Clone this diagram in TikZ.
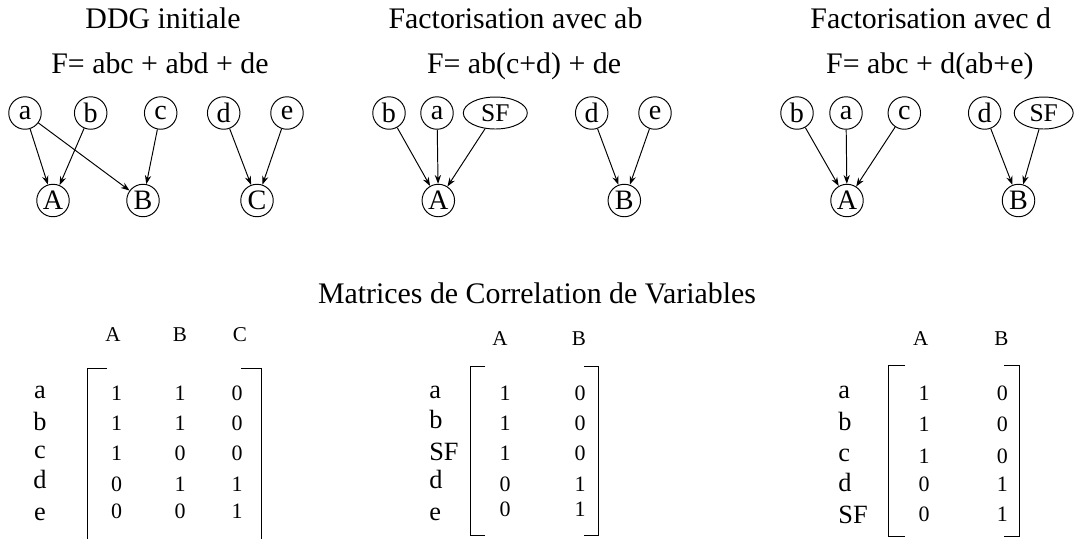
\documentclass[tikz,border=0pt]{standalone}
\usepackage{fontspec}
\setmainfont{Liberation Serif}
\usetikzlibrary{arrows.meta,shapes.geometric}

\begin{document}
\begin{tikzpicture}[x=0.02cm,y=-0.02cm,line width=0.55pt,
  var/.style={circle,draw,inner sep=0pt,minimum size=0.65cm,font=\fontsize{16}{17}\selectfont},
  sfnode/.style={ellipse,draw,inner sep=0pt,minimum height=0.64cm,font=\fontsize{14.5}{16}\selectfont},
  dep/.style={-{Stealth[length=5pt,width=3.6pt]}},
  title/.style={anchor=base,font=\fontsize{17}{19}\selectfont},
  hd/.style={anchor=base,font=\fontsize{12}{14}\selectfont},
  lbl/.style={anchor=base,font=\fontsize{15}{16}\selectfont},
  ent/.style={anchor=base,font=\fontsize{12.5}{14}\selectfont}]
  \useasboundingbox (0,0) rectangle (1074,539);

  % DDG initiale
  \node[title] (t1) at (163,28) {DDG initiale};
  \node[title] (f1) at (160,73) {F= abc + abd + de};
  \node[var] (a1) at (25,113) {a};
  \node[var] (b1) at (90.7,113) {b};
  \node[var] (c1) at (160.7,113) {c};
  \node[var] (d1) at (223.7,113) {d};
  \node[var] (e1) at (287,113) {e};
  \node[var] (A1) at (53,200.5) {A};
  \node[var] (B1) at (143,200.5) {B};
  \node[var] (C1) at (257,200.5) {C};
  \draw[dep] (a1)--(A1);
  \draw[dep] (a1)--(B1);
  \draw[dep] (b1)--(A1);
  \draw[dep] (c1)--(B1);
  \draw[dep] (d1)--(C1);
  \draw[dep] (e1)--(C1);

  % factorisation avec ab
  \node[title] (t2) at (515.5,28) {Factorisation avec ab};
  \node[title] (f2) at (524,73) {F= ab(c+d) + de};
  \node[var] (b2) at (389,113) {b};
  \node[var] (a2) at (437,113) {a};
  \node[sfnode,minimum width=1.28cm] (s2) at (495.3,113) {SF};
  \node[var] (d2) at (591.7,113) {d};
  \node[var] (e2) at (655,113) {e};
  \node[var] (A2) at (438.3,200.5) {A};
  \node[var] (B2) at (624.3,200.5) {B};
  \draw[dep] (b2)--(A2);
  \draw[dep] (a2)--(A2);
  \draw[dep] (s2)--(A2);
  \draw[dep] (d2)--(B2);
  \draw[dep] (e2)--(B2);

  % factorisation avec d
  \node[title] (t3) at (930.7,28) {Factorisation avec d};
  \node[title] (f3) at (929.8,73) {F= abc + d(ab+e)};
  \node[var] (b3) at (797,113) {b};
  \node[var] (a3) at (846,113) {a};
  \node[var] (c3) at (904.3,113) {c};
  \node[var] (d3) at (984.7,113) {d};
  \node[sfnode,minimum width=1.18cm] (s3) at (1043.7,113) {SF};
  \node[var] (A3) at (847,200.5) {A};
  \node[var] (B3) at (1018.5,200.5) {B};
  \draw[dep] (b3)--(A3);
  \draw[dep] (a3)--(A3);
  \draw[dep] (c3)--(A3);
  \draw[dep] (d3)--(B3);
  \draw[dep] (s3)--(B3);

  % matrices
  \node[title] (mt) at (537,303) {Matrices de Correlation de Variables};

  \node[hd] (h1A) at (113,341.7) {A};
  \node[hd] (h1B) at (180,341.7) {B};
  \node[hd] (h1C) at (240,341.7) {C};
  \draw (107,368) -| (87,539);
  \draw (241,368) -| (261,539);
  \foreach \lab/\yl/\ye/\p/\q/\s [count=\i] in
    {a/398/400/1/1/0, b/430/430/1/1/0, c/458/460/1/0/0, d/488/491.7/0/1/1, e/520/518.3/0/0/1}{
    \node[lbl] (r1\i) at (40,\yl) {\lab};
    \node[ent] (m1\i a) at (116.7,\ye) {\p};
    \node[ent] (m1\i b) at (180,\ye) {\q};
    \node[ent] (m1\i c) at (237,\ye) {\s};
  }

  \node[hd] (h2A) at (500,345) {A};
  \node[hd] (h2B) at (579,345) {B};
  \draw (485,366) -| (470,535) -- (485,535);
  \draw (584,366) -| (598,535) -- (584,535);
  \foreach \lab/\yl/\ye/\p/\q [count=\i] in
    {a/398/400/1/0, b/428/430/1/0, SF/460/460/1/0, d/488/491.7/0/1, e/520/516.7/0/1}{
    \node[lbl,anchor=base west] (r2\i) at (423,\yl) {\lab};
    \node[ent] (m2\i a) at (505,\ye) {\p};
    \node[ent] (m2\i b) at (580,\ye) {\q};
  }

  \node[hd] (h3A) at (920.7,345) {A};
  \node[hd] (h3B) at (1001.3,345) {B};
  \draw (905,365) -| (888,536) -- (905,536);
  \draw (1004,365) -| (1019,536) -- (1004,536);
  \foreach \lab/\yl/\ye/\p/\q [count=\i] in
    {a/398/400/1/0, b/430/431.7/1/0, c/461.7/463/1/0, d/491.7/491.7/0/1, SF/523/521.7/0/1}{
    \node[lbl,anchor=base west] (r3\i) at (832,\yl) {\lab};
    \node[ent] (m3\i a) at (924,\ye) {\p};
    \node[ent] (m3\i b) at (1002.3,\ye) {\q};
  }
\end{tikzpicture}
\end{document}
